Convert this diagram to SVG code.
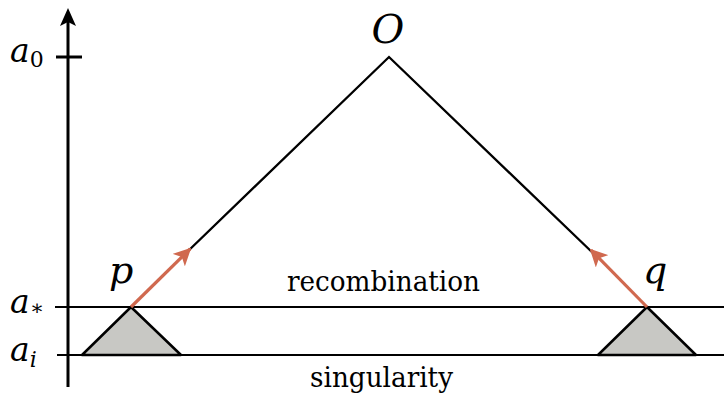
<svg xmlns="http://www.w3.org/2000/svg" width="724" height="394" viewBox="0 0 724 394">
<style>
.ln{stroke:#000;stroke-width:2;fill:none}
.ax{stroke:#000;stroke-width:3;fill:none}
.tri{fill:#c8c8c4;stroke:#000;stroke-width:2.5;stroke-linejoin:round}
.red{stroke:#d0694f;stroke-width:3.2;fill:none}
text{font-family:"DejaVu Serif",serif;fill:#000}
.m{font-style:italic}
.t{font-size:28px}
</style>
<defs>
<marker id="rh" viewBox="0 0 10 10" refX="9" refY="5" markerWidth="5.5" markerHeight="5.5" markerUnits="strokeWidth" orient="auto">
<path d="M0,0 L10,5 L0,10 L2.5,5 Z" fill="#d0694f"/>
</marker>
</defs>
<g id="axis">
<line class="ax" x1="68" y1="387" x2="68" y2="20"/>
<path d="M68,8 L76,26 L68,22 L60,26 Z" fill="#000"/>
<line class="ax" x1="56" y1="57" x2="82" y2="57"/>
</g>
<g id="levels">
<line class="ln" x1="55" y1="307" x2="724" y2="307"/>
<line class="ln" x1="57" y1="355" x2="724" y2="355"/>
</g>
<g id="tri-p"><polygon class="tri" points="82,355 131,307 181,355"/></g>
<g id="tri-q"><polygon class="tri" points="598,355 647,307 696,355"/></g>
<g id="connectors">
<polyline class="ln" points="185,254 389,57 595,255" style="stroke-width:2.3"/>
<line class="red" x1="131" y1="307" x2="190" y2="249" marker-end="url(#rh)"/>
<line class="red" x1="647" y1="307" x2="591" y2="250" marker-end="url(#rh)"/>
</g>
<g id="labels">
<text class="m" x="10" y="62" font-size="33">a<tspan font-style="normal" font-size="22" dy="5">0</tspan></text>
<text class="m" x="10" y="313" font-size="33">a<tspan font-style="normal" font-size="21" dy="2">∗</tspan></text>
<text class="m" x="10" y="361" font-size="33">a<tspan font-size="22" dy="6">i</tspan></text>
<text class="m" x="388" y="43" font-size="40" text-anchor="middle">O</text>
<text class="m" x="109" y="283" font-size="38">p</text>
<text class="m" x="643" y="283" font-size="38">q</text>
<text class="t" x="287" y="291" textLength="193" lengthAdjust="spacingAndGlyphs">recombination</text>
<text class="t" x="310" y="387" textLength="143" lengthAdjust="spacingAndGlyphs">singularity</text>
</g>
</svg>
